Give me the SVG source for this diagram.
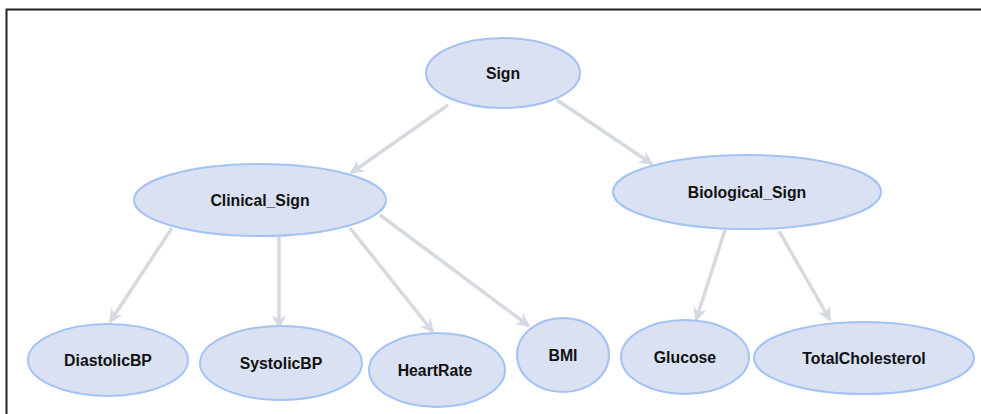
<svg xmlns="http://www.w3.org/2000/svg" width="981" height="414" viewBox="0 0 981 414">
<defs>
<style>
.n ellipse{fill:#d9e1f2;stroke:#a4c2f4;stroke-width:2}
.n text{font-family:"Liberation Sans",Arial,sans-serif;font-weight:bold;font-size:15.8px;fill:#111;text-anchor:middle;dominant-baseline:central}
.e line{stroke:#d5d9e0;stroke-width:3.5}
</style>
<marker id="ah" viewBox="0 0 10 10" refX="9" refY="5" markerWidth="4" markerHeight="4" orient="auto" markerUnits="strokeWidth">
<path d="M0,0 L10,5 L0,10 L3,5 Z" fill="#d5d9e0"/>
</marker>
</defs>
<rect width="981" height="414" fill="#fff"/>
<path d="M6.5,414 V9.5 H981" fill="none" stroke="#222" stroke-width="2"/>
<g class="e" id="edges">
<line x1="448" y1="105" x2="351" y2="173" marker-end="url(#ah)"/>
<line x1="557" y1="100" x2="652" y2="164" marker-end="url(#ah)"/>
<line x1="172" y1="228" x2="110" y2="322" marker-end="url(#ah)"/>
<line x1="279" y1="237" x2="279" y2="328" marker-end="url(#ah)"/>
<line x1="350" y1="228" x2="433" y2="332" marker-end="url(#ah)"/>
<line x1="380" y1="215" x2="529" y2="326" marker-end="url(#ah)"/>
<line x1="725" y1="230" x2="696" y2="320" marker-end="url(#ah)"/>
<line x1="779" y1="231" x2="830" y2="320" marker-end="url(#ah)"/>
</g>
<g class="n" id="Sign"><ellipse cx="503" cy="73" rx="77" ry="35"/><text x="503" y="73">Sign</text></g>
<g class="n" id="Clinical_Sign"><ellipse cx="260" cy="200" rx="126" ry="36"/><text x="260" y="200">Clinical_Sign</text></g>
<g class="n" id="Biological_Sign"><ellipse cx="747" cy="192" rx="134" ry="37"/><text x="747" y="192">Biological_Sign</text></g>
<g class="n" id="DiastolicBP"><ellipse cx="108" cy="360" rx="80" ry="36"/><text x="108" y="360">DiastolicBP</text></g>
<g class="n" id="SystolicBP"><ellipse cx="281" cy="363" rx="81" ry="37"/><text x="281" y="363">SystolicBP</text></g>
<g class="n" id="HeartRate"><ellipse cx="437" cy="370" rx="68" ry="37"/><text x="435" y="370">HeartRate</text></g>
<g class="n" id="BMI"><ellipse cx="563" cy="355" rx="46" ry="37"/><text x="563" y="355">BMI</text></g>
<g class="n" id="Glucose"><ellipse cx="685" cy="357" rx="64" ry="37"/><text x="685" y="357">Glucose</text></g>
<g class="n" id="TotalCholesterol"><ellipse cx="864" cy="358" rx="110" ry="36"/><text x="864" y="358">TotalCholesterol</text></g>
</svg>
